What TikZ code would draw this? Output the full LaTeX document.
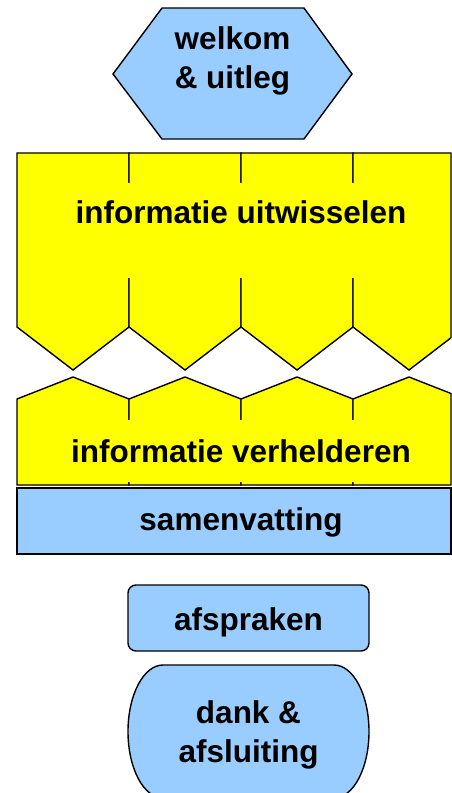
\documentclass[tikz,border=0pt]{standalone}
\usepackage{fontspec}
\setmainfont{Liberation Sans}
\definecolor{boxblue}{HTML}{99CCFF}
\definecolor{boxyellow}{HTML}{FFFF00}
\tikzset{
  outline/.style={draw=black, line width=1.4pt, line join=miter},
  bluebox/.style={outline, fill=boxblue},
  yellowbox/.style={outline, fill=boxyellow},
  label/.style={font=\fontsize{31.5}{39}\selectfont\bfseries, inner sep=0pt, align=center},
}
\begin{document}
\begin{tikzpicture}[x=1pt, y=-1pt]
\path[use as bounding box] (0,0) rectangle (452,793);
\clip (0,0) rectangle (452,793);

% opening: hexagon
\path[bluebox] (162,8) -- (304,8) -- (352,74) -- (304,139) -- (162,139) -- (113,74) -- cycle;
\node[label] (welkom) at (232.5,60.5) {welkom\\\& uitleg};

% information exchange: four pointed columns
\foreach \l in {17,129,241} {
  \path[yellowbox] (\l,153) -- (\l+112,153) -- (\l+112,327) -- (\l+56,370) -- (\l,327) -- cycle;
}
\path[yellowbox] (353,153) -- (451,153) -- (451,337.75) -- (409,370) -- (353,327) -- cycle;
\fill[boxyellow] (18.5,183) rectangle (450,278);
\node[label, anchor=base] (uitwisselen) at (241,223) {informatie uitwisselen};

% clarification: four columns with raised tops
\foreach \l in {17,129,241} {
  \path[yellowbox] (\l,399) -- (\l+56,377) -- (\l+112,399) -- (\l+112,485) -- (\l,485) -- cycle;
}
\path[yellowbox] (353,399) -- (409,377) -- (451,393.5) -- (451,485) -- (353,485) -- cycle;
\fill[boxyellow] (18.5,420) rectangle (450,482);
\node[label, anchor=base] (verhelderen) at (241,462) {informatie verhelderen};

% summary bar
\path[bluebox] (17,488) rectangle (451,554);
\node[label, anchor=base] (samenvatting) at (241,530) {samenvatting};

% agreements
\path[bluebox, rounded corners=8pt] (128,585) rectangle (369,651);
\node[label, anchor=base] (afspraken) at (248.5,630) {afspraken};

% closing: terminator shape
\path[bluebox] (163,665) -- (334,665)
  arc[start angle=-90, end angle=90, x radius=35, y radius=66.5]
  -- (163,798)
  arc[start angle=90, end angle=270, x radius=35, y radius=66.5] -- cycle;
\node[label] (dank) at (248.5,734.5) {dank \&\\afsluiting};
\end{tikzpicture}
\end{document}
